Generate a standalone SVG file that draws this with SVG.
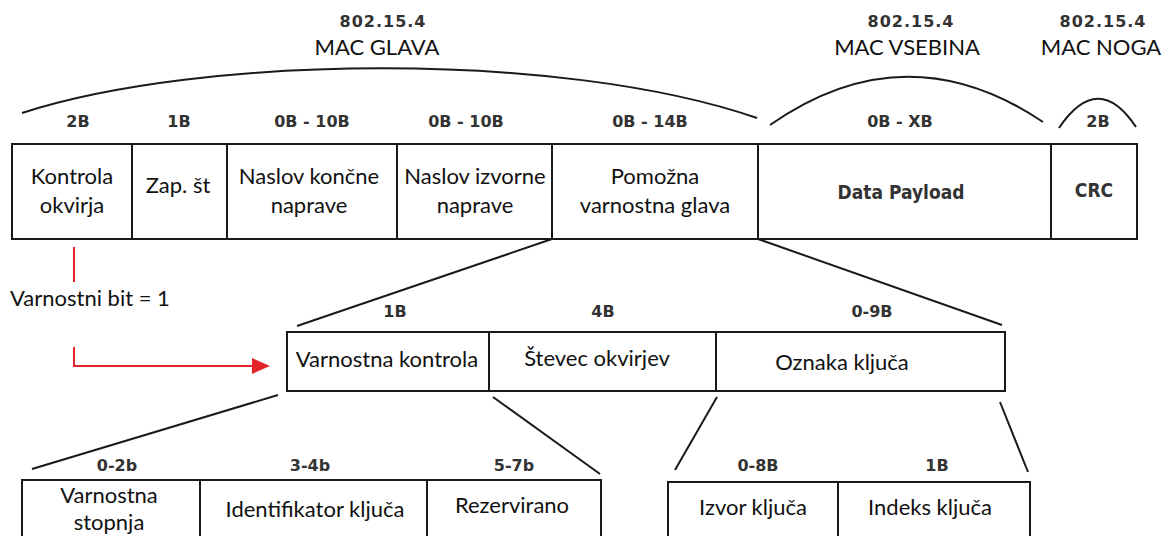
<svg xmlns="http://www.w3.org/2000/svg" width="1163" height="536" viewBox="0 0 1163 536">
  <style>
    .box { fill: #ffffff; stroke: #1a1a1a; stroke-width: 2; }
    .div { stroke: #1a1a1a; stroke-width: 2; }
    .link { stroke: #1a1a1a; stroke-width: 2; fill: none; }
    .arc { stroke: #1a1a1a; stroke-width: 2; fill: none; }
    .size { font-family: "DejaVu Sans", sans-serif; font-weight: bold; font-size: 16px; fill: #333333; text-anchor: middle; }
    .std { font-family: "DejaVu Sans", sans-serif; font-weight: bold; font-size: 16px; fill: #333333; text-anchor: middle; letter-spacing: 1px; }
    .sect { font-family: Lato, "Noto Sans", sans-serif; font-size: 22px; fill: #111111; text-anchor: middle; }
    .lbl { font-family: Lato, "Noto Sans", sans-serif; font-size: 22px; fill: #111111; text-anchor: middle; }
    .bold { font-family: "DejaVu Sans Condensed", "DejaVu Sans", sans-serif; font-weight: bold; font-size: 19px; fill: #333333; text-anchor: middle; }
    .red { stroke: #e3242b; stroke-width: 2; fill: none; }
  </style>

  <!-- section headings and spans -->
  <g id="heading-header">
    <text class="std" x="383" y="27">802.15.4</text>
    <text class="sect" x="377" y="55">MAC GLAVA</text>
    <path class="arc" d="M22,113 C200,55 560,50 757,118"/>
  </g>
  <g id="heading-payload">
    <text class="std" x="911" y="27">802.15.4</text>
    <text class="sect" x="907" y="55">MAC VSEBINA</text>
    <path class="arc" d="M770,125 Q906,30 1043,122"/>
  </g>
  <g id="heading-footer">
    <text class="std" x="1103" y="27">802.15.4</text>
    <text class="sect" x="1101" y="55">MAC NOGA</text>
    <path class="arc" d="M1059,128 Q1098,70 1136,127"/>
  </g>

  <!-- MAC frame -->
  <g id="frame">
    <rect class="box" x="12" y="144" width="1125" height="95"/>
    <line class="div" x1="132" y1="144" x2="132" y2="239"/>
    <line class="div" x1="227" y1="144" x2="227" y2="239"/>
    <line class="div" x1="397" y1="144" x2="397" y2="239"/>
    <line class="div" x1="552" y1="144" x2="552" y2="239"/>
    <line class="div" x1="758" y1="144" x2="758" y2="239"/>
    <line class="div" x1="1051" y1="144" x2="1051" y2="239"/>
  </g>
  <g id="frame-control">
    <text class="size" x="78" y="127">2B</text>
    <text class="lbl" x="72" y="184">Kontrola</text>
    <text class="lbl" x="72" y="213">okvirja</text>
  </g>
  <g id="frame-seq">
    <text class="size" x="179" y="127">1B</text>
    <text class="lbl" x="178" y="193">Zap. št</text>
  </g>
  <g id="frame-dst">
    <text class="size" x="312" y="127">0B - 10B</text>
    <text class="lbl" x="309" y="184">Naslov končne</text>
    <text class="lbl" x="309" y="213">naprave</text>
  </g>
  <g id="frame-src">
    <text class="size" x="466" y="127">0B - 10B</text>
    <text class="lbl" x="475" y="184">Naslov izvorne</text>
    <text class="lbl" x="475" y="213">naprave</text>
  </g>
  <g id="frame-aux">
    <text class="size" x="650" y="127">0B - 14B</text>
    <text class="lbl" x="655" y="184">Pomožna</text>
    <text class="lbl" x="655" y="213">varnostna glava</text>
  </g>
  <g id="frame-payload">
    <text class="size" x="900" y="127">0B - XB</text>
    <text class="bold" x="901" y="199">Data Payload</text>
  </g>
  <g id="frame-crc">
    <text class="size" x="1098" y="127">2B</text>
    <text class="bold" x="1094" y="197">CRC</text>
  </g>

  <!-- security bit note -->
  <g id="security-bit">
    <text class="lbl" x="10" y="306" text-anchor="start" style="text-anchor:start">Varnostni bit = 1</text>
  </g>

  <!-- auxiliary security header -->
  <g id="aux-header">
    <rect class="box" x="287" y="332" width="718" height="59"/>
    <line class="div" x1="489" y1="332" x2="489" y2="391"/>
    <line class="div" x1="716" y1="332" x2="716" y2="391"/>
  </g>
  <g id="aux-control">
    <text class="size" x="395" y="317">1B</text>
    <text class="lbl" x="387" y="367">Varnostna kontrola</text>
  </g>
  <g id="aux-counter">
    <text class="size" x="603" y="317">4B</text>
    <text class="lbl" x="597" y="366">Števec okvirjev</text>
  </g>
  <g id="aux-keyid">
    <text class="size" x="872" y="317">0-9B</text>
    <text class="lbl" x="842" y="370">Oznaka ključa</text>
  </g>

  <!-- security control fields -->
  <g id="sec-control">
    <rect class="box" x="22" y="480" width="579" height="70"/>
    <line class="div" x1="200" y1="480" x2="200" y2="550"/>
    <line class="div" x1="427" y1="480" x2="427" y2="550"/>
  </g>
  <g id="sec-level">
    <text class="size" x="117" y="471">0-2b</text>
    <text class="lbl" x="109" y="503">Varnostna</text>
    <text class="lbl" x="109" y="530">stopnja</text>
  </g>
  <g id="sec-keymode">
    <text class="size" x="310" y="471">3-4b</text>
    <text class="lbl" x="315" y="517">Identifikator ključa</text>
  </g>
  <g id="sec-reserved">
    <text class="size" x="514" y="471">5-7b</text>
    <text class="lbl" x="512" y="513">Rezervirano</text>
  </g>

  <!-- key identifier fields -->
  <g id="key-id">
    <rect class="box" x="668" y="482" width="362" height="70"/>
    <line class="div" x1="838" y1="482" x2="838" y2="552"/>
  </g>
  <g id="key-source">
    <text class="size" x="758" y="471">0-8B</text>
    <text class="lbl" x="753" y="515">Izvor ključa</text>
  </g>
  <g id="key-index">
    <text class="size" x="937" y="471">1B</text>
    <text class="lbl" x="930" y="515">Indeks ključa</text>
  </g>

  <!-- expansion lines and security-bit arrow -->
  <g id="connectors">
    <line class="link" x1="552" y1="239" x2="297" y2="326"/>
    <line class="link" x1="758" y1="239" x2="1002" y2="325"/>
    <line class="link" x1="278" y1="395" x2="32" y2="469"/>
    <line class="link" x1="493" y1="397" x2="600" y2="474"/>
    <line class="link" x1="717" y1="397" x2="675" y2="470"/>
    <line class="link" x1="1000" y1="402" x2="1028" y2="472"/>
    <line class="red" x1="74" y1="247" x2="74" y2="282"/>
    <path class="red" d="M74,347 V366 H256"/>
    <polygon points="270,366 252,358 252,374" fill="#e3242b"/>
  </g>
</svg>
